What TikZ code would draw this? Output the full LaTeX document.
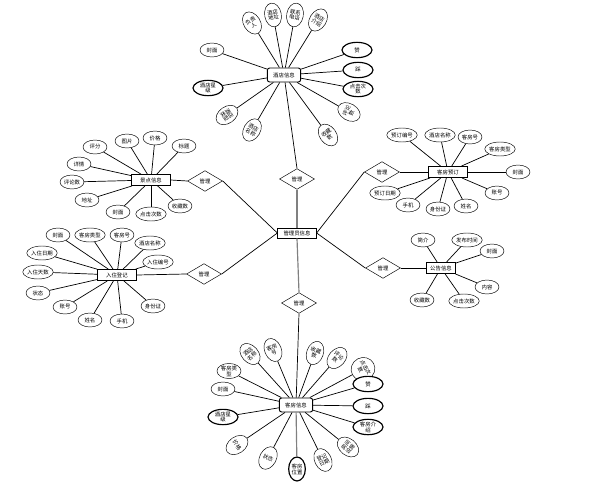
\documentclass[tikz,border=0pt]{standalone}
\usepackage{fontspec}
\setmainfont{Noto Sans CJK SC}
\usetikzlibrary{shapes.geometric}
\begin{document}
\begin{tikzpicture}[x=0.03cm,y=-0.03cm,font=\fontsize{4.6}{5}\selectfont,ent/.style={draw, thick, fill=white, minimum width=1.15cm, minimum height=0.33cm, inner sep=1pt},hub/.style={ent, rounded corners=2pt, minimum width=1cm, minimum height=0.42cm},rel/.style={draw, diamond, fill=white, aspect=1.7, minimum width=1.05cm, minimum height=0.62cm, inner sep=0pt},attr/.style={draw, ellipse, fill=white, inner sep=0pt, minimum width=0.72cm, minimum height=0.42cm, align=center},vattr/.style={attr, minimum width=0.5cm, minimum height=0.72cm},bold/.style={line width=1pt, minimum width=0.9cm, minimum height=0.46cm},link/.style={semithick}]
\useasboundingbox (0,0) rectangle (603,497);
% entities and relations
\node[ent, minimum height=0.3cm] (admin) at (297,233) {管理员信息};
\node[hub] (hotel) at (284,75) {酒店信息};\node[hub] (room) at (296,405) {客房信息};
\node[ent] (scenic) at (151,180) {景点信息};\node[ent] (checkin) at (117,275) {入住登记};\node[ent] (booking) at (448,172) {客房预订};\node[ent, minimum width=0.87cm] (notice) at (441,268) {公告信息};
\node[rel] (m1) at (297,179) {管理};\node[rel] (m2) at (205,181) {管理};\node[rel] (m3) at (382,172) {管理};\node[rel] (m4) at (383,268) {管理};\node[rel] (m5) at (204,274) {管理};\node[rel] (m6) at (299,303) {管理};
\draw[link] (m1.north) -- (hotel);\draw[line width=1pt, gray] (m1.south) -- (admin.north);\draw[link] (m2.east) -- (admin.west);\draw[link] (m2.west) -- (scenic.east);\draw[link] (m5.east) -- (admin.west);\draw[link] (m5.west) -- (checkin.east);
\draw[link] (m3.west) -- (admin.east);\draw[link] (m3.east) -- (booking.west);\draw[link] (m4.west) -- (admin.east);\draw[link] (m4.east) -- (notice.west);\draw[line width=1pt, gray] (m6.north) -- (admin.south);\draw[link] (m6.south) -- (room);
% hotel attributes
\foreach \nm/\p/\r/\t in {h1/{(252,23)}/32/{负责\\人},h2/{(273,15)}/10/{酒店\\地址},h3/{(295,15)}/-10/{联系\\电话},h4/{(318,20)}/-32/{酒店\\介绍},h5/{(227,115)}/-55/{酒店\\类型},h6/{(252,130)}/-30/{酒店\\名称},h7/{(349,112)}/60/{评论\\数},h8/{(328,135)}/36/{收藏\\数}}{\node[vattr, rotate=\r] (\nm) at \p {\t};\draw[link] (\nm) -- (hotel);}
\node[attr] (h9) at (212,50) {封面};\draw[link] (h9) -- (hotel);
\foreach \nm/\p/\t in {h10/{(208,88)}/{酒店星\\级},h11/{(357,50)}/赞,h12/{(358,70)}/踩,h13/{(358,89)}/{点击次\\数}}{\node[attr, bold] (\nm) at \p {\t};\draw[link] (\nm) -- (hotel);}
% scenic attributes
\foreach \nm/\p/\t in {s1/{(95,147)}/评分,s2/{(127,141)}/图片,s3/{(155,138)}/价格,s4/{(184,146)}/标题,s5/{(79,164)}/详情,s6/{(72,182)}/评论数,s7/{(87,200)}/地址,s8/{(118,212)}/封面,s9/{(151,214)}/点击次数,s10/{(180,206)}/收藏数}{\node[attr] (\nm) at \p {\t};\draw[link] (\nm) -- (scenic);}
% booking attributes
\foreach \nm/\p/\t in {b1/{(402,135)}/预订编号,b2/{(440,135)}/酒店名称,b3/{(470,137)}/客房号,b4/{(500,149)}/客房类型,b5/{(518,172)}/封面,b6/{(497,193)}/账号,b7/{(466,206)}/姓名,b8/{(438,209)}/身份证,b9/{(408,205)}/手机,b10/{(385,193)}/预订日期}{\node[attr] (\nm) at \p {\t};\draw[link] (\nm) -- (booking);}
% checkin attributes
\foreach \nm/\p/\t in {c1/{(58,235)}/封面,c2/{(90,235)}/客房类型,c3/{(122,235)}/客房号,c4/{(150,243)}/酒店名称,c5/{(158,262)}/入住编号,c6/{(42,253)}/入住日期,c7/{(38,272)}/入住天数,c8/{(38,293)}/状态,c9/{(65,307)}/账号,c10/{(90,320)}/姓名,c11/{(122,321)}/手机,c12/{(153,306)}/身份证}{\node[attr] (\nm) at \p {\t};\draw[link] (\nm) -- (checkin);}
% notice attributes
\foreach \nm/\p/\t in {n1/{(423,240)}/简介,n2/{(467,240)}/发布时间,n3/{(492,251)}/封面,n4/{(487,287)}/内容,n5/{(464,301)}/点击次数,n6/{(422,300)}/收藏数}{\node[attr] (\nm) at \p {\t};\draw[link] (\nm) -- (notice);}
% room attributes
\foreach \nm/\p/\r/\t in {k1/{(250,354)}/42/{酒店\\名称},k2/{(273,350)}/23/{客房\\号},k3/{(315,353)}/-20/{收藏\\数},k4/{(337,358)}/-41/{评论\\数},k5/{(363,369)}/-62/{点击次\\数},k6/{(348,447)}/51/{房间\\设施},k7/{(323,460)}/26/{登记\\日期},k8/{(268,458)}/-28/状态,k9/{(237,445)}/-56/价格}{\node[vattr, rotate=\r] (\nm) at \p {\t};\draw[link] (\nm) -- (room);}
\node[vattr, line width=1pt] (k10) at (297,469) {客房\\位置};\draw[line width=1pt, gray] (k10) -- (room);
\node[attr] (k11) at (229,371) {客房类\\型};\draw[link] (k11) -- (room);\node[attr] (k12) at (223,389) {封面};\draw[link] (k12) -- (room);
\foreach \nm/\p/\t in {k13/{(223,417)}/{酒店星\\级},k14/{(368,384)}/赞,k15/{(368,406)}/踩,k16/{(368,427)}/{客房介\\绍}}{\node[attr, bold] (\nm) at \p {\t};\draw[link] (\nm) -- (room);}
\end{tikzpicture}
\end{document}
